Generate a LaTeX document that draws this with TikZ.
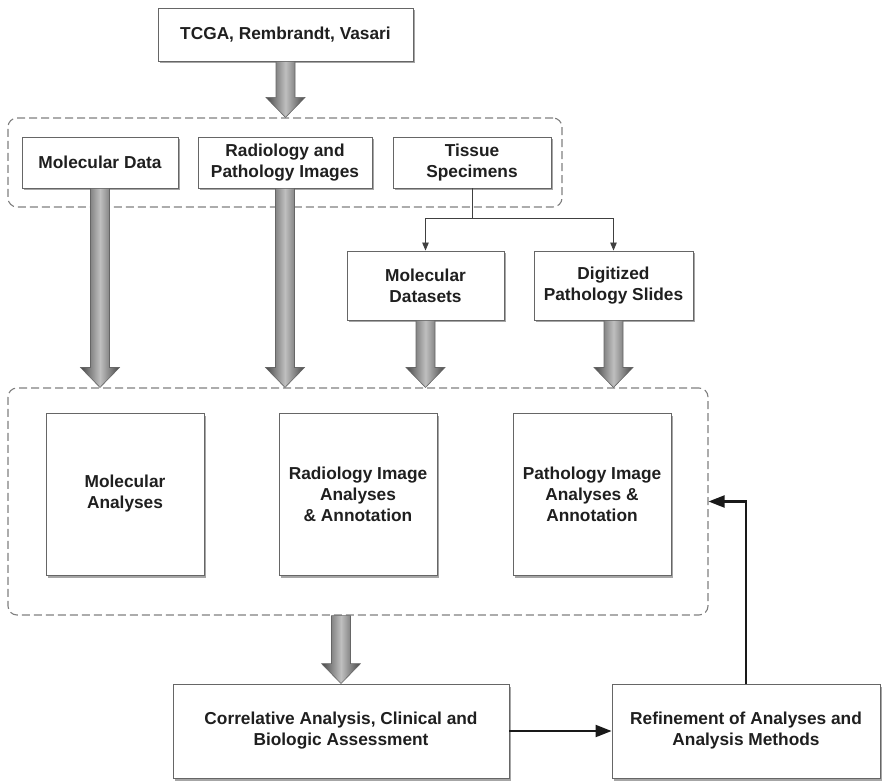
\documentclass[tikz,border=0pt]{standalone}
\usepackage{fontspec}
\setmainfont{Liberation Sans}
\usetikzlibrary{arrows.meta,calc,shadows}

\newcommand{\fatarrow}[2]{%
  \path[fatarrow] let \p1=#1, \p2=#2 in
    (\x1-9.5pt,\y1) -- (\x1+9.5pt,\y1) -- (\x1+9.5pt,\y2+20pt) -- (\x1+19.5pt,\y2+20pt)
    -- (\x1,\y2) -- (\x1-19.5pt,\y2+20pt) -- (\x1-9.5pt,\y2+20pt) -- cycle;}

\begin{document}
\begin{tikzpicture}[x=1pt,y=-1pt,
  every node/.style={font=\fontsize{17.3}{21}\selectfont\bfseries,text=black!88},
  box/.style={draw=black!60,line width=0.9pt,fill=white,align=center,inner sep=2pt,
    drop shadow={shadow xshift=1.5pt,shadow yshift=-2.5pt,opacity=0.35,fill=black}},
  grp/.style={draw=black!50,line width=1.1pt,dash pattern=on 8pt off 4pt,rounded corners=9pt},
  fatarrow/.style={shade,left color=black!72,right color=black!72,middle color=black!25,
    draw=black!60,line width=0.6pt},
  thin/.style={draw=black!75,line width=0.9pt,-{Triangle[length=8pt,width=6.5pt]}},
  loop/.style={draw=black!90,line width=2.2pt,-{Triangle[length=16pt,width=12pt]}}]
  \useasboundingbox (0,0) rectangle (883,783);
  \node[grp,minimum width=554pt,minimum height=89pt] (grpa) at (285,162.5) {};
  \node[grp,minimum width=700pt,minimum height=227pt] (grpb) at (358,501.5) {};
  \node[box,minimum width=255pt,minimum height=53pt] (src) at (285.5,34.5) {TCGA, Rembrandt, Vasari};
  \node[box,minimum width=156pt,minimum height=51pt] (mol) at (100,162.5) {Molecular Data};
  \node[box,minimum width=174pt,minimum height=51pt] (img) at (285,162.5) {Radiology and\\Pathology Images};
  \node[box,minimum width=158pt,minimum height=51pt] (tis) at (472,162.5) {Tissue\\Specimens};
  \node[box,minimum width=157pt,minimum height=69pt] (molset) at (425.5,285.5) {Molecular\\Datasets};
  \node[box,minimum width=159pt,minimum height=69pt] (slides) at (613.5,285.5) {Digitized\\Pathology Slides};
  \node[box,minimum width=158pt,minimum height=162pt] (molan) at (125,494) {Molecular\\Analyses};
  \node[box,minimum width=158pt,minimum height=162pt] (radan) at (358,494) {Radiology Image\\Analyses\\\& Annotation};
  \node[box,minimum width=158pt,minimum height=162pt] (pathan) at (592,494) {Pathology Image\\Analyses \&\\Annotation};
  \node[box,minimum width=336pt,minimum height=94pt] (corr) at (341,731) {Correlative Analysis, Clinical and\\Biologic Assessment};
  \node[box,minimum width=268pt,minimum height=94pt] (refine) at (746,731) {Refinement of Analyses and\\Analysis Methods};
  \fatarrow{(src.south)}{(grpa.north)}
  \fatarrow{(mol.south)}{(mol.south |- grpb.north)}
  \fatarrow{(img.south)}{(img.south |- grpb.north)}
  \fatarrow{(molset.south)}{(molset.south |- grpb.north)}
  \fatarrow{(slides.south)}{(slides.south |- grpb.north)}
  \fatarrow{(corr.north |- grpb.south)}{(corr.north)}
  \draw[thin] (tis.south) -- ++(0,30) -| (molset.north);
  \draw[thin] (tis.south) -- ++(0,30) -| (slides.north);
  \draw[loop] (corr.east) -- (refine.west);
  \draw[loop] (refine.north) |- (grpb.east);
\end{tikzpicture}
\end{document}
